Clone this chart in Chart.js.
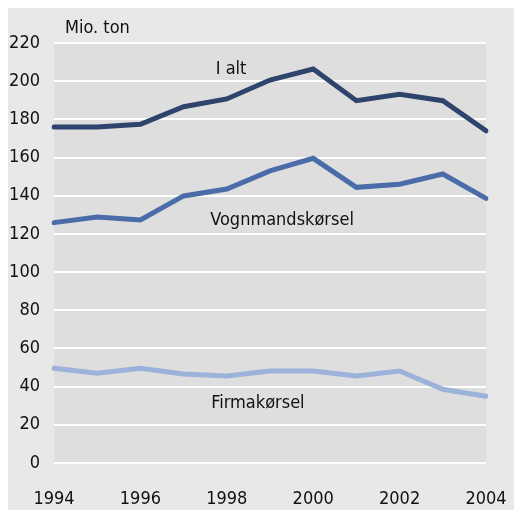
<!DOCTYPE html>
<html>
<head>
<meta charset="utf-8">
<script src="https://cdn.jsdelivr.net/npm/chart.js@4/dist/chart.umd.min.js"></script>
<style>
  html, body { margin: 0; padding: 0; background: #fff; }
  #panel { position: absolute; left: 8px; top: 8px; width: 506px; height: 502px; background: #e8e8e8; }
  #wrap { position: absolute; left: 0; top: 0; width: 514px; height: 511px; }
</style>
</head>
<body>
<div id="panel"></div>
<div id="wrap"><canvas id="chart" width="514" height="511"></canvas></div>
<script>
const years = ["1994", "1995", "1996", "1997", "1998", "1999", "2000", "2001", "2002", "2003", "2004"];
const iAlt = [176, 176, 177.4, 186.6, 190.7, 200.6, 206.4, 189.8, 193.2, 189.8, 174];
const vognmand = [125.9, 128.9, 127.3, 139.9, 143.5, 153, 159.6, 144.4, 146, 151.4, 138.6];
const firma = [49.6, 47, 49.6, 46.6, 45.6, 48.2, 48.2, 45.6, 48.2, 38.6, 35];
const yTicks = [0, 20, 40, 60, 80, 100, 120, 140, 160, 180, 200, 220];

const FONT = "'DejaVu Sans Condensed', 'Liberation Sans', sans-serif";
const TEXT = "#111111";
const SIZE = 18;

// series labels placed in data space (index, value)
const seriesLabels = [
  { text: "I alt", x: 4.1, y: 206 },
  { text: "Vognmandskørsel", x: 5.28, y: 127 },
  { text: "Firmakørsel", x: 4.72, y: 31.4 }
];

// grey plot background and text annotations
const decor = {
  id: "decor",
  beforeDraw(chart) {
    const { ctx, chartArea: a } = chart;
    ctx.save();
    ctx.fillStyle = "#dedede";
    ctx.fillRect(a.left, a.top, a.right - a.left, a.bottom - a.top);
    ctx.restore();
  },
  afterDraw(chart) {
    const { ctx, scales } = chart;
    ctx.save();
    ctx.font = SIZE + "px " + FONT;
    ctx.fillStyle = TEXT;
    ctx.textBaseline = "middle";
    ctx.textAlign = "left";
    ctx.fillText("Mio. ton", 65, 28);
    ctx.textAlign = "center";
    seriesLabels.forEach(l => {
      ctx.fillText(l.text, scales.x.getPixelForValue(l.x), scales.y.getPixelForValue(l.y));
    });
    ctx.restore();
  }
};

new Chart(document.getElementById("chart"), {
  type: "line",
  data: {
    labels: years,
    datasets: [
      { label: "I alt", data: iAlt, borderColor: "#2f446c" },
      { label: "Vognmandskørsel", data: vognmand, borderColor: "#4a6ca8" },
      { label: "Firmakørsel", data: firma, borderColor: "#9db2da" }
    ].map(d => Object.assign(d, { borderWidth: 5, pointRadius: 0, tension: 0, fill: false, borderCapStyle: "round", borderJoinStyle: "miter" }))
  },
  options: {
    responsive: false,
    animation: false,
    layout: { padding: { top: 43, right: 28, left: 0, bottom: 0 } },
    plugins: { legend: { display: false }, tooltip: { enabled: false } },
    scales: {
      x: {
        offset: false,
        grid: { display: false, drawTicks: false },
        border: { display: false },
        afterFit: s => { s.height = 48; s.paddingLeft = 0; s.paddingRight = 0; },
        ticks: {
          autoSkip: false,
          maxRotation: 0,
          padding: 26,
          color: TEXT,
          font: { family: FONT, size: SIZE },
          callback: (v, i) => (i % 2 === 0 ? years[i] : "")
        }
      },
      y: {
        min: 0,
        max: 220,
        afterFit: s => { s.width = 54; s.paddingTop = 0; s.paddingBottom = 0; },
        afterBuildTicks: s => { s.ticks = yTicks.map(v => ({ value: v })); },
        grid: { color: "#ffffff", lineWidth: 2, drawTicks: false },
        border: { display: false },
        ticks: {
          padding: 14,
          color: TEXT,
          font: { family: FONT, size: SIZE }
        }
      }
    }
  },
  plugins: [decor]
});
</script>
</body>
</html>
